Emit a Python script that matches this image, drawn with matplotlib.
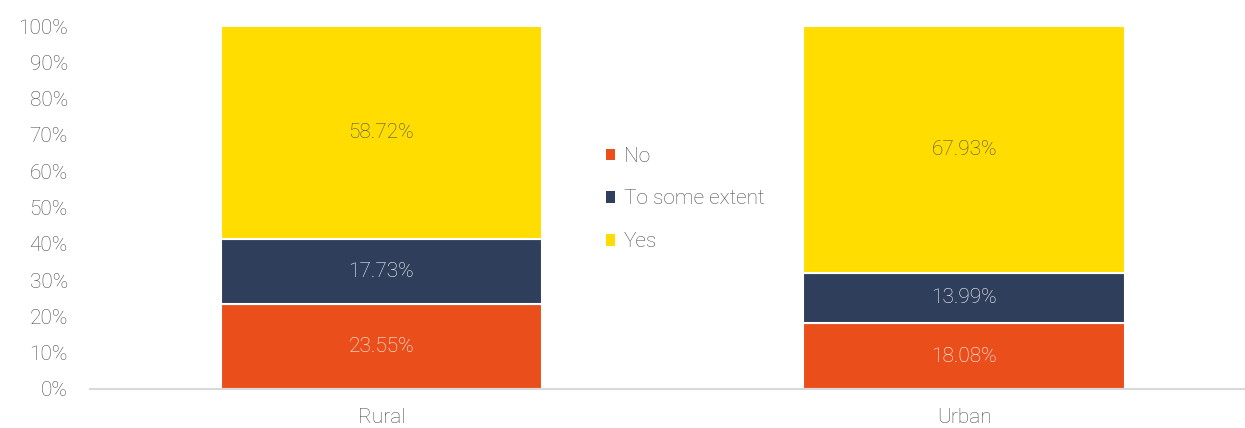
import matplotlib.pyplot as plt
from matplotlib.patches import Patch
from matplotlib.ticker import FuncFormatter

plt.rcParams['font.family'] = ['Roboto', 'DejaVu Sans']
plt.rcParams['font.weight'] = 'light'

categories = ['Rural', 'Urban']
series = ['No', 'To some extent', 'Yes']
no_vals = [23.55, 18.08]
some_vals = [17.73, 13.99]
yes_vals = [58.72, 67.93]

colors = ['#E94E1B', '#2F3E5A', '#FFDD00']
label_colors = ['white', 'white', '#4D4D4D']
grey = '#4D4D4D'
fsize = 15

fig = plt.figure(figsize=(12.45, 4.28), dpi=100)
ax = fig.add_axes([90 / 1245, 39 / 428, 1155 / 1245, 363 / 428])

x = list(range(len(categories)))
bottom = [0, 0]
for vals, col, tcol in zip([no_vals, some_vals, yes_vals], colors, label_colors):
    bars = ax.bar(x, vals, width=0.552, bottom=bottom, color=col,
                  edgecolor='white', linewidth=1.5)
    for b, v, b0 in zip(bars, vals, bottom):
        ax.text(b.get_x() + b.get_width() / 2, b0 + v / 2, f'{v:.2f}%',
                ha='center', va='center', color=tcol, fontsize=fsize)
    bottom = [a + v for a, v in zip(bottom, vals)]

ax.set_xlim(-0.5, 1.482)
ax.set_ylim(0, 100)
ax.set_yticks(range(0, 101, 10))
ax.yaxis.set_major_formatter(FuncFormatter(lambda v, p: f'{v:.0f}%'))
ax.set_xticks(x)
ax.set_xticklabels(categories)
ax.tick_params(length=0, labelsize=fsize, labelcolor=grey)
ax.tick_params(axis='y', pad=16)
ax.tick_params(axis='x', pad=14)
for s in ['top', 'right', 'left']:
    ax.spines[s].set_visible(False)
ax.spines['bottom'].set_color('#D9D9D9')
ax.spines['bottom'].set_linewidth(1.5)

handles = [Patch(facecolor=c, edgecolor='none') for c in colors]
leg = fig.legend(handles, series, loc='center left',
                 bbox_to_anchor=(606 / 1245, 1 - 199 / 428), frameon=False,
                 borderpad=0, borderaxespad=0,
                 handlelength=0.45, handleheight=0.45, handletextpad=0.4,
                 labelspacing=1.15, prop={'size': fsize, 'weight': 'light'},
                 labelcolor=grey)

fig.savefig('out.png', dpi=100)
